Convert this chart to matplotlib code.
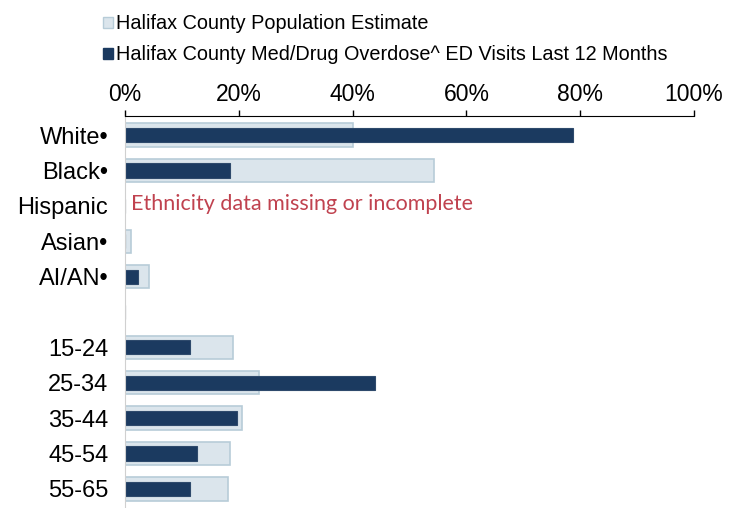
import numpy as np
import matplotlib.pyplot as plt
from matplotlib.patches import Patch
from matplotlib.ticker import PercentFormatter

plt.rcParams['font.family'] = ['Liberation Sans', 'DejaVu Sans']

categories = ['White\u2022', 'Black\u2022', 'Hispanic', 'Asian\u2022', 'AI/AN\u2022', '',
              '15-24', '25-34', '35-44', '45-54', '55-65']
population = [40.1, 54.3, 0, 1.0, 4.2, 0, 19.0, 23.5, 20.6, 18.5, 18.1]
ed_visits = [78.7, 18.5, 0, 0, 2.3, 0, 11.4, 44.0, 19.7, 12.7, 11.4]
pop_label = 'Halifax County Population Estimate'
ed_label = 'Halifax County Med/Drug Overdose^ ED Visits Last 12 Months'
note = 'Ethnicity data missing or incomplete'

pop_color = '#dbe5ec'
pop_edge = '#b7ccd8'
ed_color = '#1b3a60'

fig = plt.figure(figsize=(7.29, 5.08), dpi=100)
ax = fig.add_axes([0.1715, 0.0, 0.7805, 0.7717])

y = np.arange(len(categories))
ax.barh(y, population, height=0.66, color=pop_color, edgecolor=pop_edge, linewidth=1.2)
ax.barh(y, ed_visits, height=0.4, color=ed_color, edgecolor='#2e4a6c', linewidth=0.8)

ax.set_ylim(10.54, -0.54)
ax.set_xlim(0, 100)
ax.set_yticks(y)
ax.set_yticklabels(categories, fontsize=17)
ax.tick_params(axis='y', length=0, pad=12)

ax.xaxis.tick_top()
ax.set_xticks(np.arange(0, 101, 20))
ax.xaxis.set_major_formatter(PercentFormatter(decimals=0))
ax.tick_params(axis='x', direction='out', length=4, width=1, labelsize=16.5, pad=3)

for s in ['right', 'bottom']:
    ax.spines[s].set_visible(False)
ax.spines['left'].set_color('#d0d0d0')
ax.spines['top'].set_color('black')

ax.text(1.0, 1.95, note, color='#c0424f', fontsize=15.5, family=['Lato', 'DejaVu Sans'],
        va='center', ha='left')

handles = [Patch(facecolor=pop_color, edgecolor=pop_edge), Patch(facecolor=ed_color, edgecolor=ed_color)]
fig.legend(handles, [pop_label, ed_label], loc='upper left', bbox_to_anchor=(0.125, 0.995),
           frameon=False, fontsize=14.3, handlelength=0.5, handleheight=0.5, handletextpad=0.15,
           labelspacing=0.6, borderaxespad=0.2)

fig.savefig('out.png', dpi=100)
